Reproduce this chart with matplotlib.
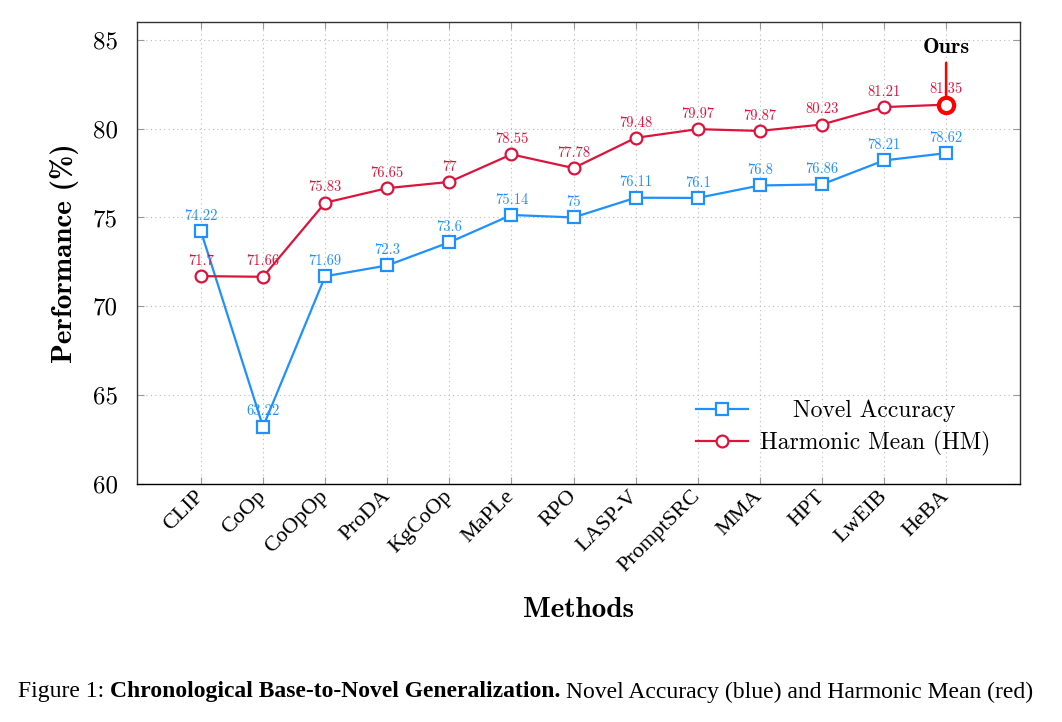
import matplotlib
matplotlib.use("Agg")
import matplotlib.pyplot as plt
from matplotlib.transforms import Affine2D, ScaledTranslation

methods = ["CLIP", "CoOp", "CoOpOp", "ProDA", "KgCoOp", "MaPLe", "RPO",
           "LASP-V", "PromptSRC", "MMA", "HPT", "LwEIB", "HeBA"]
novel = [74.22, 63.22, 71.69, 72.3, 73.6, 75.14, 75, 76.11, 76.1, 76.8, 76.86, 78.21, 78.62]
hm = [71.7, 71.66, 75.83, 76.65, 77, 78.55, 77.78, 79.48, 79.97, 79.87, 80.23, 81.21, 81.35]
novel_labels = ["74.22", "63.22", "71.69", "72.3", "73.6", "75.14", "75", "76.11", "76.1", "76.8", "76.86", "78.21", "78.62"]
hm_labels = ["71.7", "71.66", "75.83", "76.65", "77", "78.55", "77.78", "79.48", "79.97", "79.87", "80.23", "81.21", "81.35"]
yticks = [60, 65, 70, 75, 80, 85]

plt.rcParams['axes.formatter.use_mathtext'] = True
CM = 'cmr10'
CMB = 'cmb10'
SERIF = 'Liberation Serif'
BLUE = '#1E90FF'
RED = '#DC143C'

fig = plt.figure(figsize=(10.62, 7.22), dpi=100)
ax = fig.add_axes([137/1062, 1 - 484/722, (1020-137)/1062, (484-22)/722])

x = list(range(len(methods)))
ax.plot(x, novel, color=BLUE, lw=1.6, marker='s', ms=8, mfc='white', mec=BLUE, mew=1.6,
        label='Novel Accuracy', zorder=3)
ax.plot(x, hm, color=RED, lw=1.6, marker='o', ms=8.5, mfc='white', mec=RED, mew=1.6,
        label='Harmonic Mean (HM)', zorder=3)

for xi, v, t in zip(x, novel, novel_labels):
    ax.annotate(t, (xi, v), xytext=(0, 6), textcoords='offset points', ha='center', va='bottom',
                fontsize=10.5, family=CM, color=BLUE, zorder=5)
for xi, v, t in zip(x, hm, hm_labels):
    ax.annotate(t, (xi, v), xytext=(0, 6), textcoords='offset points', ha='center', va='bottom',
                fontsize=10.5, family=CM, color=RED, zorder=5)

# highlight ours
ax.plot([x[-1]], [hm[-1]], marker='o', ms=11, mfc='white', mec='#FF0000', mew=3, zorder=6)
ax.annotate('', xy=(x[-1], hm[-1] + 0.4), xytext=(x[-1], 83.7),
            arrowprops=dict(arrowstyle='-', color='#FF0000', lw=1.8, shrinkA=0, shrinkB=0), zorder=6)
ax.text(x[-1], 84.55, 'Ours', ha='center', va='center', fontsize=16, family=CMB, zorder=6)

ax.set_xlim(-1.03, 13.19)
ax.set_ylim(60, 86)
ax.set_yticks(yticks)
ax.set_yticklabels([str(v) for v in yticks], family=CM, fontsize=18)
ax.set_xticks(x)
ax.set_xticklabels(methods, rotation=45, ha='right', va='center', rotation_mode='anchor',
                   family=SERIF, fontsize=16)
for lab in ax.get_xticklabels():
    lab.set_transform(lab.get_transform() + ScaledTranslation(-5/100, 0, fig.dpi_scale_trans))
ax.tick_params(direction='in', length=5, color='#999999', top=True, right=True)
ax.tick_params(axis='y', pad=14)
ax.tick_params(axis='x', pad=7)
ax.grid(True, linestyle=(0, (1, 3)), color='#bbbbbb', lw=0.8)
ax.set_axisbelow(True)
for s in ax.spines.values():
    s.set_color('#333333')
    s.set_linewidth(1.0)
ax.spines['bottom'].set_color('black')

ax.set_ylabel('Performance (%)', family=CMB, fontsize=21, labelpad=10)
ax.set_xlabel('Methods', family=CMB, fontsize=21, labelpad=15)

leg = ax.legend(loc='lower right', bbox_to_anchor=(0.99, 0.015), frameon=False,
                prop={'family': CM, 'size': 17}, handlelength=2.2, handletextpad=0.5,
                labelspacing=0.35)

cap_y = 1 - 692/722
t1 = fig.text(18/1062, cap_y, "Figure 1: ", ha='left', va='center', family=SERIF, fontsize=17)
fig.canvas.draw()
r = fig.canvas.get_renderer()

# center the first legend entry text like the reference
lt = leg.get_texts()
w0 = lt[0].get_window_extent(r).width
w1 = lt[1].get_window_extent(r).width
lt[0].set_transform(lt[0].get_transform() + Affine2D().translate((w1 - w0) / 2, 0))

bb = t1.get_window_extent(r)
t2 = fig.text(bb.x1/1062, cap_y, "Chronological Base-to-Novel Generalization.", ha='left', va='center',
              family=SERIF, fontsize=17, fontweight='bold')
bb2 = t2.get_window_extent(r)
fig.text(bb2.x1/1062 + 0.005, cap_y, "Novel Accuracy (blue) and Harmonic Mean (red)", ha='left', va='center',
         family=SERIF, fontsize=17)

fig.savefig('out.png', dpi=100)
